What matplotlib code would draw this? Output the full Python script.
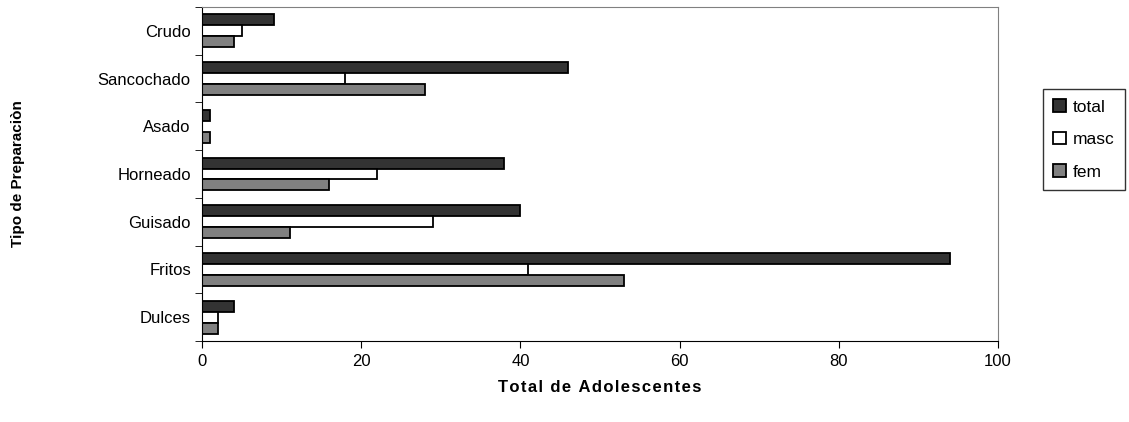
import matplotlib
matplotlib.use("Agg")
import matplotlib.pyplot as plt
import numpy as np

categories = ["Crudo", "Sancochado", "Asado", "Horneado", "Guisado", "Fritos", "Dulces"]
total = [9, 46, 1, 38, 40, 94, 4]
masc = [5, 18, 0, 22, 29, 41, 2]
fem = [4, 28, 1, 16, 11, 53, 2]
xticks = [0, 20, 40, 60, 80, 100]

plt.rcParams['font.family'] = ['Liberation Sans', 'DejaVu Sans']

W, H = 1129, 422
fig = plt.figure(figsize=(W / 100, H / 100), dpi=100)
L, R, T, B = 202, 998, 7, 341
ax = fig.add_axes([L / W, 1 - B / H, (R - L) / W, (B - T) / H])

n = len(categories)
pos = np.arange(n)[::-1].astype(float)
h = 0.23
kw = dict(height=h, edgecolor='black', linewidth=1.3)
b1 = ax.barh(pos + h, total, color='#333333', label='total', **kw)
b2 = ax.barh(pos, masc, color='white', label='masc', **kw)
b3 = ax.barh(pos - h, fem, color='#808080', label='fem', **kw)

ax.set_xlim(0, 100)
ax.set_ylim(-0.5, n - 0.5)
ax.set_xticks(xticks)
ax.set_xticklabels([str(v) for v in xticks], fontsize=12)
ax.set_yticks(pos)
ax.set_yticklabels(categories, fontsize=12)
ax.set_yticks(np.arange(n + 1) - 0.5, minor=True)
ax.tick_params(axis='y', which='major', length=0, pad=8)
ax.tick_params(axis='y', which='minor', length=5, direction='out', color='black')
ax.tick_params(axis='x', length=5, direction='out', color='black', pad=4)

for s in ['top', 'right']:
    ax.spines[s].set_color('#808080')
for s in ['left', 'bottom']:
    ax.spines[s].set_color('black')

xlabel = "Total de Adolescentes"
fig.text(0.5 * (L + R) / W, 1 - 388 / H, "\u200a".join(xlabel), fontsize=12,
         fontweight='bold', ha='center', va='center')
fig.text(18 / W, 1 - 0.5 * (T + B) / H, "Tipo de Preparaciòn", fontsize=11,
         fontweight='bold', rotation=90, ha='center', va='center')

leg = fig.legend(handles=[b1, b2, b3], labels=['total', 'masc', 'fem'],
                 loc='upper left', bbox_to_anchor=(1043 / W, 1 - 89 / H), fontsize=12.5,
                 frameon=True, fancybox=False, edgecolor='black',
                 handlelength=0.7, handleheight=0.7, handletextpad=0.4,
                 labelspacing=1.0, borderpad=0.6, borderaxespad=0)
leg.get_frame().set_linewidth(1.0)

fig.savefig("out.png", dpi=100)
